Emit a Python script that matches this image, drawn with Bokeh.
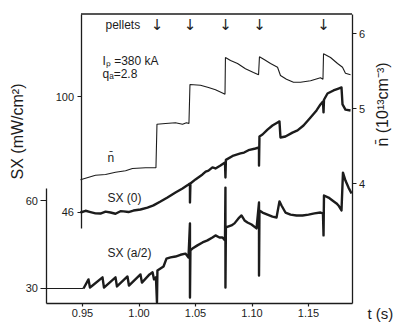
import math
from bokeh.plotting import figure
from bokeh.models import Range1d, LinearAxis, FixedTicker, Label, CustomJSTickFormatter
from bokeh.core.properties import value
from bokeh.embed import file_html
from bokeh.resources import INLINE

# ------------------------------------------------------------------ data
t_ticks = [0.95, 1.00, 1.05, 1.10, 1.15]
t_tick_labels = ["0.95", "1.00", "1.05", "1.10", "1.15"]
sx_upper_ticks = [46, 100]
sx_lower_ticks = [30, 60]
nbar_ticks = [4, 5, 6]
pellet_times = [1.0159, 1.0451, 1.0765, 1.1066, 1.1633]

# line-averaged density (10^13 cm^-3)
nbar_t = [0.9482, 0.9615, 0.9704, 0.9792, 0.9881, 0.9942, 1.0058, 1.0150,
          1.0159, 1.0235, 1.0323, 1.0385, 1.0420, 1.0442,
          1.0451, 1.0544, 1.0615, 1.0677, 1.0748, 1.0761,
          1.0765, 1.0810, 1.0872, 1.0942, 1.1013, 1.1058,
          1.1066, 1.1111, 1.1164, 1.1226, 1.1252, 1.1305, 1.1367, 1.1429,
          1.1518, 1.1606, 1.1628,
          1.1633, 1.1695, 1.1757, 1.1801, 1.1827, 1.1872]
nbar = [4.05, 4.11, 4.12, 4.15, 4.17, 4.20, 4.21, 4.21,
        4.79, 4.80, 4.81, 4.79, 4.81, 4.80,
        5.32, 5.31, 5.28, 5.25, 5.20, 5.19,
        5.68, 5.64, 5.60, 5.53, 5.48, 5.45,
        5.69, 5.65, 5.60, 5.55, 5.44, 5.39, 5.35, 5.35,
        5.37, 5.41, 5.39,
        5.73, 5.68, 5.60, 5.55, 5.47, 5.45]

# central soft X-ray emission SX(0), mW/cm^2 (upper scale)
sx0_t = [0.9482, 0.9527, 0.9571, 0.9615, 0.9659, 0.9704, 0.9748, 0.9792,
         0.9836, 0.9863, 0.9907, 0.9951, 1.0013, 1.0075, 1.0128, 1.0190,
         1.0252, 1.0323, 1.0385, 1.0438, 1.0451, 1.0451, 1.0455, 1.0500,
         1.0562, 1.0590, 1.0615, 1.0650, 1.0677, 1.0721, 1.0761, 1.0765,
         1.0769, 1.0836, 1.0898, 1.0930, 1.0969, 1.1031, 1.1062, 1.1062,
         1.1066, 1.1093, 1.1137, 1.1181, 1.1226, 1.1243, 1.1252, 1.1296,
         1.1358, 1.1403, 1.1456, 1.1518, 1.1571, 1.1606, 1.1628, 1.1633,
         1.1637, 1.1668, 1.1721, 1.1765, 1.1792, 1.1801, 1.1827, 1.1872]
sx0 = [46.0, 46.8, 46.2, 45.6, 45.5, 46.4, 46.0, 45.4,
       46.6, 46.5, 46.2, 46.9, 47.4, 48.3, 49.3, 51.1,
       53.0, 55.3, 57.2, 59.0, 59.5, 50.7, 59.5, 61.4,
       63.7, 65.0, 65.5, 67.0, 66.5, 67.9, 69.3, 62.3,
       70.5, 72.5, 73.5, 73.9, 75.0, 75.8, 76.3, 67.9,
       81.4, 82.3, 84.6, 86.5, 87.9, 88.4, 80.9, 81.4,
       83.2, 84.2, 86.5, 90.2, 93.5, 96.3, 97.7, 92.6,
       98.5, 101.4, 102.8, 103.7, 104.2, 96.3, 93.9, 93.5]

# soft X-ray emission at half radius SX(a/2), mW/cm^2 (lower scale)
sxa2_pre_t = [0.9173, 0.9509]
sxa2_pre = [30.0, 30.0]
sxa2_t = [0.9509, 0.9553, 0.9566, 0.9589, 0.9677, 0.9690, 0.9792, 0.9805,
          0.9898, 0.9911, 1.0013, 1.0026, 1.0093, 1.0120, 1.0133, 1.0150,
          1.0159, 1.0163, 1.0190, 1.0217, 1.0243, 1.0279, 1.0323, 1.0367,
          1.0411, 1.0438, 1.0451, 1.0451, 1.0455, 1.0473, 1.0517, 1.0562,
          1.0606, 1.0650, 1.0677, 1.0712, 1.0739, 1.0761, 1.0765, 1.0765,
          1.0769, 1.0818, 1.0845, 1.0880, 1.0907, 1.0934, 1.0960, 1.0996,
          1.1040, 1.1062, 1.1062, 1.1066, 1.1093, 1.1137, 1.1181, 1.1217,
          1.1243, 1.1261, 1.1296, 1.1341, 1.1394, 1.1447, 1.1500, 1.1553,
          1.1606, 1.1628, 1.1633, 1.1637, 1.1677, 1.1712, 1.1748, 1.1765,
          1.1792, 1.1805, 1.1827, 1.1854, 1.1881]
sxa2 = [30.0, 33.1, 30.3, 31.0, 33.8, 30.3, 33.8, 30.7,
        34.1, 31.0, 34.8, 32.0, 34.8, 35.5, 33.1, 33.8,
        25.2, 36.1, 36.8, 37.5, 40.2, 40.6, 40.9, 41.5,
        41.9, 40.6, 52.2, 26.9, 43.0, 43.6, 44.7, 45.7,
        46.4, 47.4, 48.1, 47.4, 47.4, 46.4, 64.4, 30.3,
        50.8, 51.5, 52.2, 53.9, 54.9, 53.2, 52.5, 51.8,
        50.5, 59.3, 34.4, 56.6, 55.9, 55.2, 54.5, 54.2,
        59.7, 58.3, 55.9, 55.2, 54.9, 54.9, 55.2, 55.6,
        55.9, 55.6, 48.1, 61.7, 61.0, 60.0, 59.0, 58.3,
        56.6, 69.5, 66.8, 64.4, 62.4]

# ------------------------------------------------------------------ layout
W, H = 399, 322
def tx(px):                   # canvas x -> time
    return 0.95 + (px - 82.0) / 1130.0
def v_up(py):                 # canvas y -> upper SX scale
    return 100.0 + (96.0 - py) / 2.148
def v_lo(py):                 # canvas y -> lower SX scale
    return 60.0 + (200.0 - py) / 2.933
def v_n(py):                  # canvas y -> nbar scale
    return 6.0 - (py - 33.0) / 75.0

X_AX, TOP, L_AX, BOX, R_AX = 302.5, 13.5, 45.5, 80.5, 351.5

INK = "#1c1c1c"
FONT = "Liberation Sans"

p = figure(width=W, height=H, output_backend="svg", toolbar_location=None,
           x_range=Range1d(tx(0), tx(W)), y_range=Range1d(v_up(H), v_up(0)),
           x_axis_location=None, y_axis_location=None,
           min_border=0, min_border_left=0, min_border_right=0,
           min_border_top=0, min_border_bottom=0,
           background_fill_color="white", border_fill_color="white")
p.extra_y_ranges = {"sxl": Range1d(v_lo(H), v_lo(0)), "nbar": Range1d(v_n(H), v_n(0))}
p.outline_line_color = None
p.grid.visible = False

def style(ax, tick_out, standoff):
    ax.axis_line_color = INK
    ax.axis_line_width = 1.3
    ax.major_tick_line_color = INK
    ax.major_tick_line_width = 1.2
    ax.major_tick_in = 0
    ax.major_tick_out = tick_out
    ax.minor_tick_line_color = None
    ax.major_label_standoff = standoff
    ax.major_label_text_font = FONT
    ax.major_label_text_font_size = "11px"
    ax.major_label_text_color = INK

# time axis
xaxis = LinearAxis(ticker=FixedTicker(ticks=t_ticks),
                   formatter=CustomJSTickFormatter(args=dict(labels=t_tick_labels),
                                                   code="return labels[index];"),
                   fixed_location=v_up(X_AX), bounds=(tx(L_AX), tx(R_AX)))
style(xaxis, 3, 3)
p.add_layout(xaxis, "below")

# lower SX scale (for SX(a/2))
laxis = LinearAxis(y_range_name="sxl", ticker=FixedTicker(ticks=sx_lower_ticks),
                   fixed_location=tx(L_AX), bounds=(v_lo(X_AX), v_lo(188)))
style(laxis, 6, 2)
p.add_layout(laxis, "left")

# upper SX scale (for SX(0)), the left side of the inner box
uaxis = LinearAxis(ticker=FixedTicker(ticks=sx_upper_ticks),
                   fixed_location=tx(BOX), bounds=(v_up(228), v_up(TOP)))
style(uaxis, 4, 3)
p.add_layout(uaxis, "left")

# density scale
raxis = LinearAxis(y_range_name="nbar", ticker=FixedTicker(ticks=nbar_ticks),
                   fixed_location=tx(R_AX), bounds=(v_n(X_AX), v_n(TOP)))
style(raxis, 4, 3)
p.add_layout(raxis, "right")

# top side of the inner box
p.segment(x0=[tx(BOX)], y0=[v_up(TOP)], x1=[tx(R_AX)], y1=[v_up(TOP)],
          line_color=INK, line_width=1.3)

# curves
p.line(nbar_t, nbar, y_range_name="nbar", line_color=INK, line_width=1.1)
p.line(sx0_t, sx0, line_color=INK, line_width=2.4, line_join="round")
p.line(sxa2_pre_t, sxa2_pre, y_range_name="sxl", line_color=INK, line_width=1.1)
p.line(sxa2_t, sxa2, y_range_name="sxl", line_color=INK, line_width=2.4, line_join="round")

# pellet arrows
p.text(x=pellet_times, y=[v_n(24)] * len(pellet_times), text=["\u2193"] * len(pellet_times),
       y_range_name="nbar", text_align="center", text_baseline="middle",
       text_font=value("DejaVu Sans"), text_font_size="15px", text_color=INK)

def lab(text, px, py, size="12px", align="left", angle=0.0):
    p.add_layout(Label(x=tx(px), y=v_n(py), y_range_name="nbar", text=text,
                       text_font=FONT, text_font_size=size, text_color=INK,
                       text_align=align, text_baseline="middle", angle=angle))

lab("pellets", 105, 24)
lab("I\u209a =380 kA", 102, 60)
lab("q\u2090=2.8", 102, 73)
lab("n\u0304", 107, 157)
lab("SX (0)", 107, 197)
lab("SX (a/2)", 107, 252)
lab("SX (mW/cm\u00b2)", 17, 131, size="16px", align="center", angle=math.pi / 2)
lab("n\u0304 (10\u00b9\u00b3cm\u207b\u00b3)", 382, 104, size="16px", align="center", angle=math.pi / 2)
lab("t (s)", 367, 313, size="15px")

open("out.html", "w").write(file_html(p, INLINE))
